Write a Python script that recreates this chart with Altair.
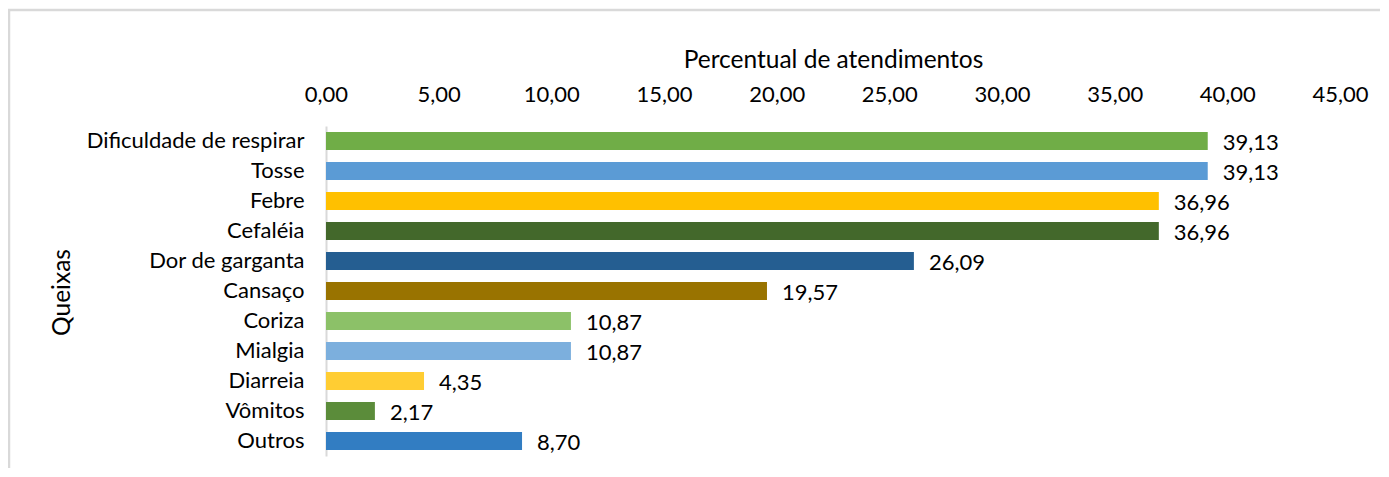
import altair as alt
import pandas as pd

categories = ["Dificuldade de respirar", "Tosse", "Febre", "Cefaléia", "Dor de garganta",
              "Cansaço", "Coriza", "Mialgia", "Diarreia", "Vômitos", "Outros"]
values = [39.13, 39.13, 36.96, 36.96, 26.09, 19.57, 10.87, 10.87, 4.35, 2.17, 8.70]
colors = ["#70AD47", "#5B9BD5", "#FFC000", "#43682B", "#255E91", "#997300",
          "#8CC168", "#7CAFDD", "#FFCD33", "#5B8C3A", "#327DC2"]
x_ticks = [0, 5, 10, 15, 20, 25, 30, 35, 40, 45]

df = pd.DataFrame({
    "Queixa": categories,
    "Valor": values,
    "Cor": colors,
    "Rotulo": [f"{v:.2f}".replace(".", ",") for v in values],
})

FONT = "Lato"
FS = 22
TFS = 24.5
W, H = 1014, 330

y_enc = alt.Y("Queixa:N", sort=categories,
              scale=alt.Scale(paddingInner=0.4, paddingOuter=0.2),
              axis=alt.Axis(title="Queixas", ticks=False, domain=True, domainColor="#d9d9d9",
                            domainWidth=2, labelPadding=22, labelLimit=0, labelFont=FONT,
                            labelFontSize=FS, labelColor="#000000", titleFont=FONT,
                            titleFontSize=TFS, titleFontWeight="normal", titleColor="#000000",
                            titleAngle=-90, titleX=-264, titleY=H / 2 + 1, titleAlign="center",
                            titleBaseline="middle"))

x_enc = alt.X("Valor:Q", scale=alt.Scale(domain=[0, 45], nice=False),
              axis=alt.Axis(orient="top", values=x_ticks, title="Percentual de atendimentos",
                            labelExpr="replace(format(datum.value, '.2f'), '.', ',')",
                            ticks=False, domain=False, grid=False, labelPadding=20,
                            labelFlush=False, labelFont=FONT, labelFontSize=FS,
                            labelColor="#000000", titleFont=FONT, titleFontSize=TFS,
                            titleFontWeight="normal", titleColor="#000000", titleX=W / 2,
                            titleY=-66, titleBaseline="middle"))

base = alt.Chart(df)

bars = base.mark_bar().encode(
    x=x_enc, y=y_enc,
    color=alt.Color("Cor:N", scale=None),
)

labels = base.mark_text(align="left", baseline="middle", dx=15, dy=2,
                        font=FONT, fontSize=FS, color="#000000").encode(
    x=alt.X("Valor:Q"), y=alt.Y("Queixa:N", sort=categories), text="Rotulo:N")

frame = alt.Chart(pd.DataFrame({"a": [0]})).mark_rect(
    fill=None, stroke="#d9d9d9", strokeWidth=2.5).encode(
    x=alt.value(-317), x2=alt.value(W + 80), y=alt.value(-116), y2=alt.value(H + 200))

chart = alt.layer(frame, bars, labels).properties(
    width=W, height=H,
    autosize=alt.AutoSizeParams(type="none"),
    padding={"left": 318, "top": 118, "right": 40, "bottom": 12},
).configure_view(stroke=None)

chart.save("out.html", embed_options={"renderer": "svg", "actions": False})
